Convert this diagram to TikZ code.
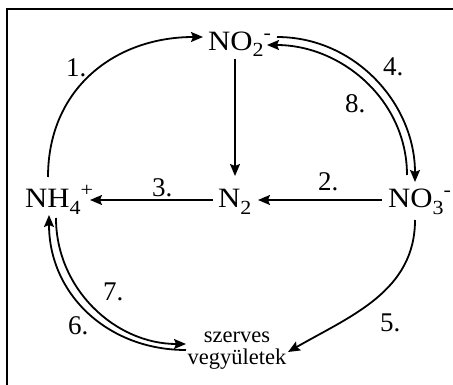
\documentclass[tikz,border=0pt]{standalone}
\usepackage{fontspec}
\setmainfont{Liberation Serif}
\newfontfamily\chemfont[FakeStretch=1.1]{Liberation Serif}
\usetikzlibrary{arrows.meta}
\newcommand{\chsub}[1]{\raisebox{-6pt}{\fontsize{20}{20}\selectfont #1}}
\newcommand{\chsup}[1]{\raisebox{11pt}{\fontsize{20}{20}\selectfont #1}}
\begin{document}
\begin{tikzpicture}[x=1pt,y=1pt,
  chem/.style={inner sep=0pt, anchor=base west, font=\chemfont\fontsize{28}{28}\selectfont},
  lbl/.style={inner sep=0pt, anchor=base west, font=\fontsize{27}{27}\selectfont},
  arr/.style={line width=1.8pt, -{Stealth[length=12pt,width=10pt,inset=2pt]}}]
\useasboundingbox (0,0) rectangle (453,-385);
\draw[line width=2pt] (7,-385) -- (7,-9) -- (453,-9);
% main nodes
\node[chem] (no2) at (208,-51) {NO\chsub{2}\chsup{-}};
\node[chem] (nh4) at (25,-208) {NH\chsub{4}\chsup{+}};
\node[chem] (n2)  at (218,-208) {N\chsub{2}};
\node[chem] (no3) at (388,-208) {NO\chsub{3}\chsup{-}};
\node[inner sep=0pt, anchor=base, align=center, font=\fontsize{22.5}{21.5}\selectfont] (sv) at (237,-364) {szerves\\vegyületek};
% labels
\node[lbl] (l1) at (66,-77) {1.};
\node[lbl] (l4) at (383,-76) {4.};
\node[lbl] (l8) at (345,-113) {8.};
\node[lbl] (l2) at (318,-191) {2.};
\node[lbl] (l3) at (152,-197) {3.};
\node[lbl] (l7) at (103,-300) {7.};
\node[lbl] (l6) at (68,-334) {6.};
\node[lbl] (l5) at (380,-331) {5.};
% connectors
\draw[arr] ([shift={(23,31)}]nh4.base west) to[out=90,in=180,looseness=1.08] ([shift={(-5,14)}]no2.base west);
\draw[arr] ([shift={(27,-8)}]no2.base west) -- ([shift={(17,32)}]n2.base west);
\draw[arr] ([shift={(-5,8)}]n2.base west) -- ([shift={(65,8)}]nh4.base west);
\draw[arr] ([shift={(-6,8)}]no3.base west) -- ([shift={(40,8)}]n2.base west);
\draw[arr] ([shift={(69,14)}]no2.base west) to[out=0,in=90,looseness=1.0] ([shift={(27,26)}]no3.base west);
\draw[arr] ([shift={(19,33)}]no3.base west) to[out=90,in=0,looseness=1.0] ([shift={(59,6)}]no2.base west);
\draw[arr] ([shift={(27,-12)}]no3.base west) to[out=-90,in=30,looseness=1.0] ([shift={(51,12)}]sv.base);
\draw[arr] ([shift={(-51,14)}]sv.base) to[out=180,in=-90,looseness=1.05] ([shift={(24,-7)}]nh4.base west);
\draw[arr] ([shift={(31,-10)}]nh4.base west) to[out=-90,in=180,looseness=1.0] ([shift={(-51,20)}]sv.base);
\end{tikzpicture}
\end{document}
